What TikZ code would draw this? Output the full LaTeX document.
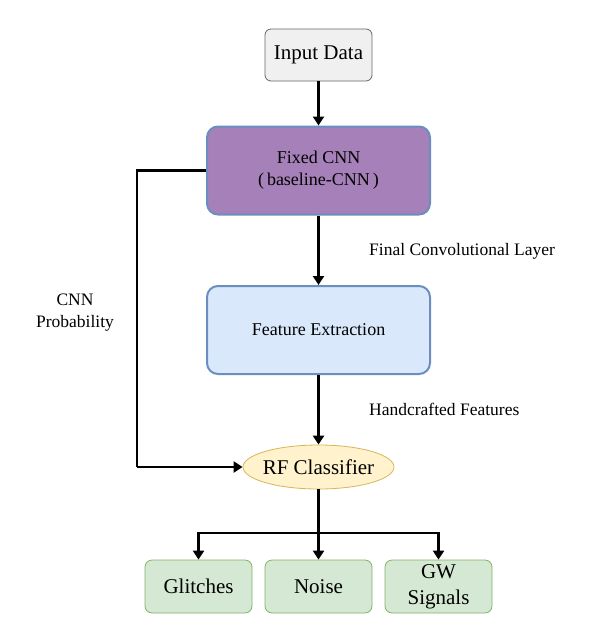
\documentclass[tikz,border=0pt]{standalone}
\usepackage{fontspec}
\setmainfont{Liberation Serif}
\usetikzlibrary{shapes.geometric,arrows.meta}
\definecolor{grayfill}{HTML}{F0F0F0}
\definecolor{grayline}{HTML}{666666}
\definecolor{purplefill}{HTML}{A680B8}
\definecolor{blueline}{HTML}{6C8EBF}
\definecolor{bluefill}{HTML}{DAE8FC}
\definecolor{yellowfill}{HTML}{FFF2CC}
\definecolor{yellowline}{HTML}{D6B656}
\definecolor{greenfill}{HTML}{D5E8D4}
\definecolor{greenline}{HTML}{82B366}
\tikzset{
  px/.style={x=1pt,y=-1pt},
  inbox/.style={draw=grayline,fill=grayfill,rounded corners=6pt,line width=0.8pt,minimum width=107pt,minimum height=52pt,font=\fontsize{21}{26}\selectfont,align=center,inner sep=0pt},
  bigbox/.style={draw=blueline,line width=2pt,rounded corners=11pt,minimum width=223pt,minimum height=88pt,font=\fontsize{18}{22}\selectfont,align=center,inner sep=0pt},
  outbox/.style={draw=greenline,fill=greenfill,rounded corners=7pt,line width=0.8pt,minimum width=107pt,minimum height=53pt,font=\fontsize{21}{26}\selectfont,align=center,inner sep=0pt},
  rf/.style={ellipse,draw=yellowline,fill=yellowfill,line width=0.8pt,minimum width=151pt,minimum height=44pt,font=\fontsize{21}{26}\selectfont,inner sep=0pt},
  conn/.style={line width=2.4pt,-{Triangle[length=9pt,width=11pt]}},
  lbl/.style={font=\fontsize{17.5}{22}\selectfont,align=center,inner sep=0pt}
}
\begin{document}
\begin{tikzpicture}[px]
\useasboundingbox (0,0) rectangle (598,642);
\node[inbox] (input) at (318.5,55) {Input Data};
\node[bigbox,fill=purplefill] (cnn) at (318.5,170.5) {Fixed CNN\\(\,baseline-CNN\,)};
\node[bigbox,fill=bluefill] (feat) at (318.5,330) {Feature Extraction};
\node[rf] (rf) at (318.5,467) {\makebox[0pt]{RF Classifier}};
\node[outbox] (gl) at (198.5,586.5) {Glitches};
\node[outbox] (no) at (318.5,586.5) {Noise};
\node[outbox] (gw) at (438.5,586.5) {GW\\Signals};
\coordinate (split) at (318.5,533);
\coordinate (lefttop) at (137,170.5);
\coordinate (leftbot) at (137,467);
\draw[conn] (input) -- (cnn);
\draw[conn] (cnn) -- (feat);
\draw[conn] (feat) -- (rf);
\draw[line width=2.4pt,line join=miter] (cnn.west) -- (lefttop) -- (leftbot);
\draw[conn] (leftbot) -- (rf.west);
\draw[line width=2.4pt] (rf.south) -- (split);
\draw[conn] (split) -- (no);
\draw[conn] (split) -| (gl);
\draw[conn] (split) -| (gw);
\node[lbl] (plabel) at (75,313) {CNN\\Probability};
\node[lbl,anchor=west] (flabel) at (369,251) {Final Convolutional Layer};
\node[lbl,anchor=west] (hlabel) at (369,409) {Handcrafted Features};
\end{tikzpicture}
\end{document}
